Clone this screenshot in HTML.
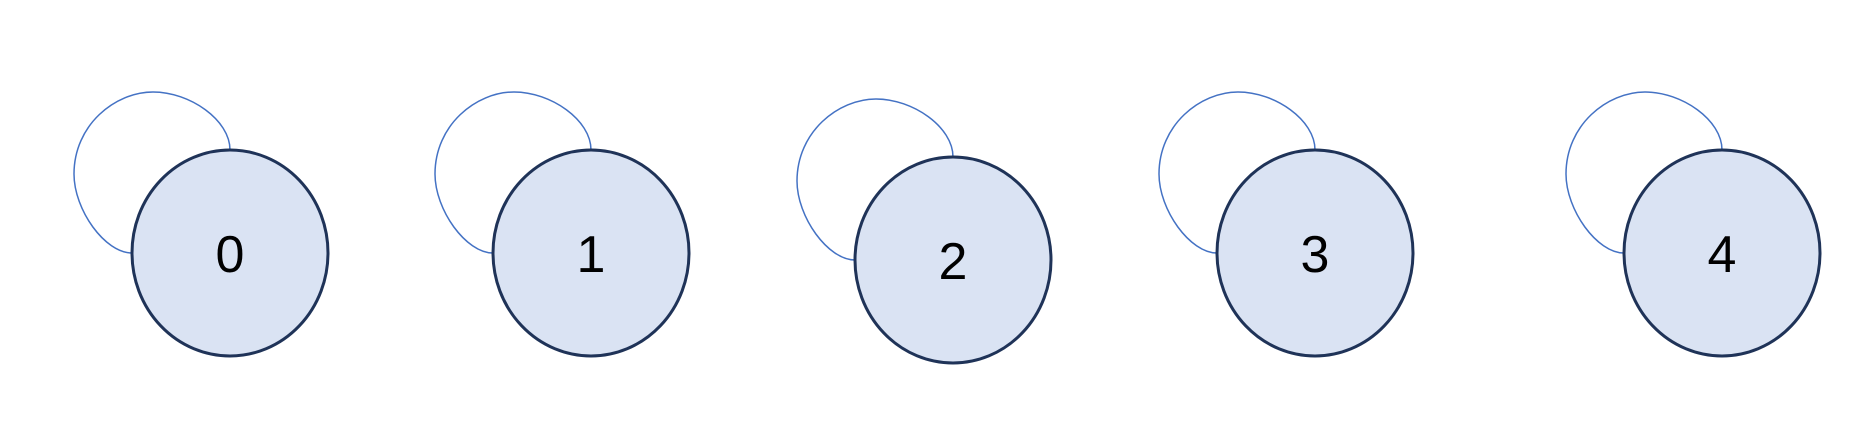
<!DOCTYPE html>
<html><head><meta charset="utf-8"><style>html,body{margin:0;padding:0;background:#fff;}svg{display:block}</style></head>
<body>
<svg id="chart" width="1872" height="446" viewBox="0 0 1872 446" xmlns="http://www.w3.org/2000/svg"></svg>
<script>
const labels = ["0","1","2","3","4"];
const centersX = [230, 591, 953, 1315, 1722];
const centersY = [253, 253, 260, 253, 253];
const svg = document.getElementById('chart');
const NS = 'http://www.w3.org/2000/svg';
const rx = 98, ry = 103;
labels.forEach((lab, i) => {
  const cx = centersX[i], cy = centersY[i], top = cy - ry;
  const g = document.createElementNS(NS, 'g');
  
  
  const loop = document.createElementNS(NS, 'path');
  
  
  loop.setAttribute('d', `M${cx},${top} C${cx},${top-30} ${cx-40},${top-58} ${cx-77},${top-58} C${cx-115},${top-58} ${cx-156},${top-25} ${cx-156},${top+24} C${cx-156},${top+60} ${cx-125},${cy} ${cx-rx},${cy}`);
  loop.setAttribute('fill', 'none');
  loop.setAttribute('stroke', '#4472C4');
  loop.setAttribute('stroke-width', '1.5');
  g.appendChild(loop);
  const e = document.createElementNS(NS, 'ellipse');
  
  
  e.setAttribute('cx', cx); e.setAttribute('cy', cy);
  e.setAttribute('rx', rx); e.setAttribute('ry', ry);
  e.setAttribute('fill', '#DAE3F3');
  e.setAttribute('stroke', '#1F3358');
  e.setAttribute('stroke-width', '3');
  g.appendChild(e);
  const t = document.createElementNS(NS, 'text');
  
  
  t.setAttribute('x', cx); t.setAttribute('y', cy + 19);
  t.setAttribute('text-anchor', 'middle');
  t.setAttribute('font-family', '"Liberation Sans", sans-serif');
  t.setAttribute('font-size', '52');
  t.setAttribute('fill', '#000');
  t.textContent = lab;
  g.appendChild(t);
  svg.appendChild(g);
});
</script>
</body></html>
